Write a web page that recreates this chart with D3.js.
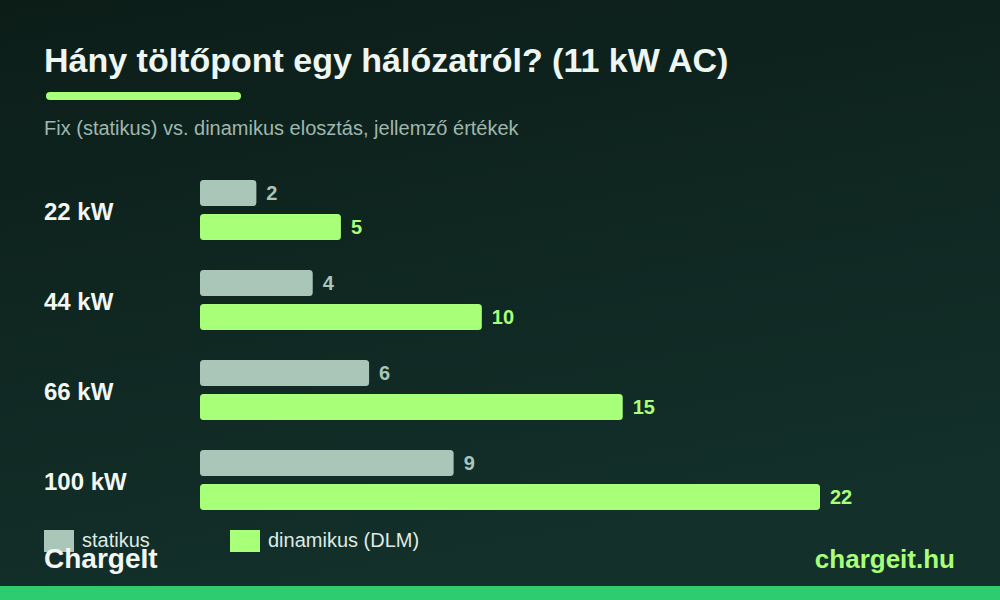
<!DOCTYPE html>
<html>
<head>
<meta charset="utf-8">
<style>
  html, body { margin: 0; padding: 0; background: #0f221c; }
  svg { display: block; }
  svg text { font-family: "Liberation Sans", Arial, Helvetica, sans-serif; }
</style>
</head>
<body>
<div id="chart"></div>
<script src="https://d3js.org/d3.v7.min.js"></script>
<script>
  const categories = ['22 kW', '44 kW', '66 kW', '100 kW'];
  const staticValues = [2, 4, 6, 9];
  const dynamicValues = [5, 10, 15, 22];
  const seriesNames = ['statikus', 'dinamikus (DLM)'];

  const W = 1000, H = 600;
  const svg = d3.select('#chart').append('svg')
    .attr('width', W)
    .attr('height', H);

  // background
  const defs = svg.append('defs');
  const bg = defs.append('linearGradient')
    .attr('id', 'bg')
    .attr('x1', 0).attr('y1', 0).attr('x2', 0.3).attr('y2', 1);
  bg.append('stop').attr('offset', '0%').attr('stop-color', '#0c1d18');
  bg.append('stop').attr('offset', '100%').attr('stop-color', '#13302a');
  svg.append('rect').attr('width', W).attr('height', H).attr('fill', 'url(#bg)');

  // title block
  svg.append('text')
    .attr('x', 44).attr('y', 72)
    .attr('fill', '#eef6f1')
    .attr('font-size', 34)
    .attr('font-weight', 'bold')
    .text('Hány töltőpont egy hálózatról? (11 kW AC)');

  svg.append('rect')
    .attr('x', 46).attr('y', 92)
    .attr('width', 195).attr('height', 8)
    .attr('rx', 4)
    .attr('fill', '#a8ff78');

  svg.append('text')
    .attr('x', 44).attr('y', 135)
    .attr('fill', '#9fb7ad')
    .attr('font-size', 20)
    .text('Fix (statikus) vs. dinamikus elosztás, jellemző értékek');

  // scales
  const x = d3.scaleLinear().domain([0, 22]).range([200, 820]);
  const y = d3.scaleBand().domain(categories).range([165, 525]).paddingInner(0);
  const barH = 26, gap = 8;

  const rows = categories.map((c, i) => ({ cat: c, s: staticValues[i], d: dynamicValues[i] }));

  const g = svg.append('g');
  const row = g.selectAll('.row').data(rows).enter().append('g')
    .attr('class', 'row')
    .attr('transform', d => `translate(0,${y(d.cat)})`);

  const mid = y.bandwidth() / 2;

  row.append('text')
    .attr('x', 44).attr('y', mid + 10)
    .attr('fill', '#f2f7f4')
    .attr('font-size', 24)
    .attr('font-weight', 'bold')
    .text(d => d.cat);

  row.append('rect')
    .attr('x', x(0)).attr('y', mid - gap / 2 - barH)
    .attr('width', d => x(d.s) - x(0)).attr('height', barH)
    .attr('rx', 3.5)
    .attr('fill', '#a9c6b9');

  row.append('text')
    .attr('x', d => x(d.s) + 10).attr('y', mid - gap / 2 - barH / 2 + 7)
    .attr('fill', '#a9c6b9')
    .attr('font-size', 20)
    .attr('font-weight', 'bold')
    .text(d => d.s);

  row.append('rect')
    .attr('x', x(0)).attr('y', mid + gap / 2)
    .attr('width', d => x(d.d) - x(0)).attr('height', barH)
    .attr('rx', 3.5)
    .attr('fill', '#a8ff78');

  row.append('text')
    .attr('x', d => x(d.d) + 10).attr('y', mid + gap / 2 + barH / 2 + 7)
    .attr('fill', '#a8ff78')
    .attr('font-size', 20)
    .attr('font-weight', 'bold')
    .text(d => d.d);

  // legend
  const legendColors = ['#a9c6b9', '#a8ff78'];
  const legendX = [44, 230];
  const lg = svg.selectAll('.lg').data(seriesNames).enter().append('g')
    .attr('transform', (d, i) => `translate(${legendX[i]},530)`);
  lg.append('rect').attr('width', 30).attr('height', 22).attr('fill', (d, i) => legendColors[i]);
  lg.append('text')
    .attr('x', 38).attr('y', 17)
    .attr('fill', '#dfeae5')
    .attr('font-size', 20)
    .text(d => d);

  // footer
  svg.append('text')
    .attr('x', 44).attr('y', 568)
    .attr('fill', '#f2f7f4')
    .attr('font-size', 28)
    .attr('font-weight', 'bold')
    .text('ChargeIt');

  svg.append('text')
    .attr('x', 955).attr('y', 568)
    .attr('text-anchor', 'end')
    .attr('fill', '#a8ff78')
    .attr('font-size', 26)
    .attr('font-weight', 'bold')
    .text('chargeit.hu');

  svg.append('rect')
    .attr('x', 0).attr('y', 586)
    .attr('width', W).attr('height', 14)
    .attr('fill', '#2ecc71');
</script>
</body>
</html>
